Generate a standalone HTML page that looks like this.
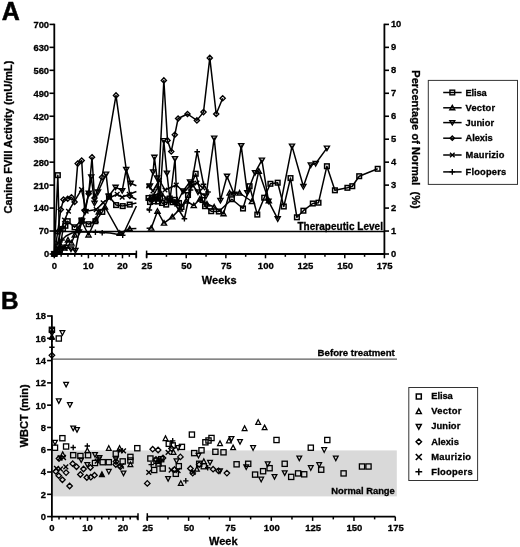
<!DOCTYPE html>
<html lang="en"><head><meta charset="utf-8"><title>Figure</title>
<style>html,body{margin:0;padding:0;background:#fff}svg{display:block;will-change:transform;filter:grayscale(1)}</style></head><body>
<svg width="520" height="547" viewBox="0 0 520 547" font-family='"Liberation Sans", Arial, Helvetica, sans-serif'>
<rect width="520" height="547" fill="#fff"/>
<text x="1.8" y="20.0" font-size="25" font-weight="bold" fill="#000" stroke="#000" stroke-width="0.5">A</text>
<path d="M54.3 23.7V254.75" stroke="#000" stroke-width="1.8" fill="none"/>
<path d="M49.5 254.00H54.3" stroke="#000" stroke-width="1.6"/>
<text x="49.1" y="257.4" font-size="9.4" font-weight="bold" fill="#000" stroke="#000" stroke-width="0.3" text-anchor="end">0</text>
<path d="M384.4 254.00h4.6" stroke="#000" stroke-width="1.6"/>
<text x="390.9" y="256.9" font-size="9.4" font-weight="bold" fill="#000" stroke="#000" stroke-width="0.3">0</text>
<path d="M49.5 231.04H54.3" stroke="#000" stroke-width="1.6"/>
<text x="49.1" y="234.44" font-size="9.4" font-weight="bold" fill="#000" stroke="#000" stroke-width="0.3" text-anchor="end">70</text>
<path d="M384.4 231.04h4.6" stroke="#000" stroke-width="1.6"/>
<text x="390.9" y="233.94" font-size="9.4" font-weight="bold" fill="#000" stroke="#000" stroke-width="0.3">1</text>
<path d="M49.5 208.08H54.3" stroke="#000" stroke-width="1.6"/>
<text x="49.1" y="211.48" font-size="9.4" font-weight="bold" fill="#000" stroke="#000" stroke-width="0.3" text-anchor="end">140</text>
<path d="M384.4 208.08h4.6" stroke="#000" stroke-width="1.6"/>
<text x="390.9" y="210.98" font-size="9.4" font-weight="bold" fill="#000" stroke="#000" stroke-width="0.3">2</text>
<path d="M49.5 185.12H54.3" stroke="#000" stroke-width="1.6"/>
<text x="49.1" y="188.52" font-size="9.4" font-weight="bold" fill="#000" stroke="#000" stroke-width="0.3" text-anchor="end">210</text>
<path d="M384.4 185.12h4.6" stroke="#000" stroke-width="1.6"/>
<text x="390.9" y="188.02" font-size="9.4" font-weight="bold" fill="#000" stroke="#000" stroke-width="0.3">3</text>
<path d="M49.5 162.16H54.3" stroke="#000" stroke-width="1.6"/>
<text x="49.1" y="165.56" font-size="9.4" font-weight="bold" fill="#000" stroke="#000" stroke-width="0.3" text-anchor="end">280</text>
<path d="M384.4 162.16h4.6" stroke="#000" stroke-width="1.6"/>
<text x="390.9" y="165.06" font-size="9.4" font-weight="bold" fill="#000" stroke="#000" stroke-width="0.3">4</text>
<path d="M49.5 139.20H54.3" stroke="#000" stroke-width="1.6"/>
<text x="49.1" y="142.6" font-size="9.4" font-weight="bold" fill="#000" stroke="#000" stroke-width="0.3" text-anchor="end">350</text>
<path d="M384.4 139.20h4.6" stroke="#000" stroke-width="1.6"/>
<text x="390.9" y="142.1" font-size="9.4" font-weight="bold" fill="#000" stroke="#000" stroke-width="0.3">5</text>
<path d="M49.5 116.24H54.3" stroke="#000" stroke-width="1.6"/>
<text x="49.1" y="119.64" font-size="9.4" font-weight="bold" fill="#000" stroke="#000" stroke-width="0.3" text-anchor="end">420</text>
<path d="M384.4 116.24h4.6" stroke="#000" stroke-width="1.6"/>
<text x="390.9" y="119.14" font-size="9.4" font-weight="bold" fill="#000" stroke="#000" stroke-width="0.3">6</text>
<path d="M49.5 93.28H54.3" stroke="#000" stroke-width="1.6"/>
<text x="49.1" y="96.68" font-size="9.4" font-weight="bold" fill="#000" stroke="#000" stroke-width="0.3" text-anchor="end">490</text>
<path d="M384.4 93.28h4.6" stroke="#000" stroke-width="1.6"/>
<text x="390.9" y="96.18" font-size="9.4" font-weight="bold" fill="#000" stroke="#000" stroke-width="0.3">7</text>
<path d="M49.5 70.32H54.3" stroke="#000" stroke-width="1.6"/>
<text x="49.1" y="73.72" font-size="9.4" font-weight="bold" fill="#000" stroke="#000" stroke-width="0.3" text-anchor="end">560</text>
<path d="M384.4 70.32h4.6" stroke="#000" stroke-width="1.6"/>
<text x="390.9" y="73.22" font-size="9.4" font-weight="bold" fill="#000" stroke="#000" stroke-width="0.3">8</text>
<path d="M49.5 47.36H54.3" stroke="#000" stroke-width="1.6"/>
<text x="49.1" y="50.76" font-size="9.4" font-weight="bold" fill="#000" stroke="#000" stroke-width="0.3" text-anchor="end">630</text>
<path d="M384.4 47.36h4.6" stroke="#000" stroke-width="1.6"/>
<text x="390.9" y="50.26" font-size="9.4" font-weight="bold" fill="#000" stroke="#000" stroke-width="0.3">9</text>
<path d="M49.5 24.40H54.3" stroke="#000" stroke-width="1.6"/>
<text x="49.1" y="27.8" font-size="9.4" font-weight="bold" fill="#000" stroke="#000" stroke-width="0.3" text-anchor="end">700</text>
<path d="M384.4 24.40h4.6" stroke="#000" stroke-width="1.6"/>
<text x="390.9" y="27.3" font-size="9.4" font-weight="bold" fill="#000" stroke="#000" stroke-width="0.3">10</text>
<path d="M384.4 23.7V254.75" stroke="#000" stroke-width="1.8" fill="none"/>
<path d="M53.55 254.0H136.4" stroke="#000" stroke-width="1.8"/>
<path d="M54.30 254.0v4.3" stroke="#000" stroke-width="1.5"/>
<path d="M61.12 254.0v2.8" stroke="#000" stroke-width="1.5"/>
<path d="M67.94 254.0v2.8" stroke="#000" stroke-width="1.5"/>
<path d="M74.76 254.0v2.8" stroke="#000" stroke-width="1.5"/>
<path d="M81.58 254.0v2.8" stroke="#000" stroke-width="1.5"/>
<path d="M88.40 254.0v4.3" stroke="#000" stroke-width="1.5"/>
<path d="M95.22 254.0v2.8" stroke="#000" stroke-width="1.5"/>
<path d="M102.04 254.0v2.8" stroke="#000" stroke-width="1.5"/>
<path d="M108.86 254.0v2.8" stroke="#000" stroke-width="1.5"/>
<path d="M115.68 254.0v2.8" stroke="#000" stroke-width="1.5"/>
<path d="M122.50 254.0v4.3" stroke="#000" stroke-width="1.5"/>
<path d="M129.32 254.0v2.8" stroke="#000" stroke-width="1.5"/>
<path d="M136.14 254.0v4.3" stroke="#000" stroke-width="1.5"/>
<path d="M136.4 250.6v7" stroke="#000" stroke-width="1.5"/>
<text x="54.3" y="269.2" font-size="9.5" font-weight="bold" fill="#000" stroke="#000" stroke-width="0.3" text-anchor="middle">0</text>
<text x="88.4" y="269.2" font-size="9.5" font-weight="bold" fill="#000" stroke="#000" stroke-width="0.3" text-anchor="middle">10</text>
<text x="122.5" y="269.2" font-size="9.5" font-weight="bold" fill="#000" stroke="#000" stroke-width="0.3" text-anchor="middle">20</text>
<path d="M146.6 254.0H384.4" stroke="#000" stroke-width="1.8"/>
<path d="M146.6 250.6v7" stroke="#000" stroke-width="1.5"/>
<path d="M146.60 254.0v4.3" stroke="#000" stroke-width="1.5"/>
<text x="146.9" y="269.2" font-size="9.5" font-weight="bold" fill="#000" stroke="#000" stroke-width="0.3" text-anchor="middle">25</text>
<path d="M166.42 254.0v2.8" stroke="#000" stroke-width="1.5"/>
<path d="M186.23 254.0v4.3" stroke="#000" stroke-width="1.5"/>
<text x="186.53" y="269.2" font-size="9.5" font-weight="bold" fill="#000" stroke="#000" stroke-width="0.3" text-anchor="middle">50</text>
<path d="M206.05 254.0v2.8" stroke="#000" stroke-width="1.5"/>
<path d="M225.87 254.0v4.3" stroke="#000" stroke-width="1.5"/>
<text x="226.17" y="269.2" font-size="9.5" font-weight="bold" fill="#000" stroke="#000" stroke-width="0.3" text-anchor="middle">75</text>
<path d="M245.68 254.0v2.8" stroke="#000" stroke-width="1.5"/>
<path d="M265.50 254.0v4.3" stroke="#000" stroke-width="1.5"/>
<text x="265.8" y="269.2" font-size="9.5" font-weight="bold" fill="#000" stroke="#000" stroke-width="0.3" text-anchor="middle">100</text>
<path d="M285.32 254.0v2.8" stroke="#000" stroke-width="1.5"/>
<path d="M305.13 254.0v4.3" stroke="#000" stroke-width="1.5"/>
<text x="305.43" y="269.2" font-size="9.5" font-weight="bold" fill="#000" stroke="#000" stroke-width="0.3" text-anchor="middle">125</text>
<path d="M324.95 254.0v2.8" stroke="#000" stroke-width="1.5"/>
<path d="M344.77 254.0v4.3" stroke="#000" stroke-width="1.5"/>
<text x="345.07" y="269.2" font-size="9.5" font-weight="bold" fill="#000" stroke="#000" stroke-width="0.3" text-anchor="middle">150</text>
<path d="M364.58 254.0v2.8" stroke="#000" stroke-width="1.5"/>
<path d="M384.40 254.0v4.3" stroke="#000" stroke-width="1.5"/>
<text x="384.7" y="269.2" font-size="9.5" font-weight="bold" fill="#000" stroke="#000" stroke-width="0.3" text-anchor="middle">175</text>
<text x="219.2" y="283.5" font-size="11" font-weight="bold" fill="#000" stroke="#000" stroke-width="0.3" text-anchor="middle">Weeks</text>
<text x="11.6" y="137" font-size="11" font-weight="bold" fill="#000" stroke="#000" stroke-width="0.3" text-anchor="middle" transform="rotate(-90 11.6 137)">Canine FVIII Activity (mU/mL)</text>
<text x="412.1" y="70.3" font-size="11" font-weight="bold" fill="#000" stroke="#000" stroke-width="0.3" textLength="138.5" lengthAdjust="spacing" transform="rotate(90 412.1 70.3)">Percentage of Normal&#160;&#160;(%)</text>
<path d="M54.3 231.4H384.4" stroke="#000" stroke-width="1.5"/>
<text x="297.4" y="230.2" font-size="10" font-weight="bold" fill="#000" stroke="#000" stroke-width="0.3" textLength="85.6" lengthAdjust="spacing">Therapeutic Level</text>
<g id="seriesA">
<path d="M54.30 253.90L57.85 175.15L59.80 250.00L63.00 229.00L65.40 225.80L67.70 221.20L74.60 227.30L81.50 220.40L88.50 224.20L95.40 221.20L102.30 211.90L109.00 196.50L116.10 205.10L122.70 206.10L129.70 204.60L136.40 203.10" fill="none" stroke="#000" stroke-width="1.5" stroke-linejoin="round"/>
<path d="M146.60 199.53L148.50 198.00L150.00 202.00L152.00 197.50L154.00 201.30L156.00 197.00L158.00 201.50L160.00 198.00L162.00 203.00L166.20 204.60L169.70 198.50L172.50 202.20L175.00 199.80L179.00 203.00L181.50 207.00L188.00 195.00L191.60 184.00L195.70 173.75L202.50 200.00L205.00 206.20L211.20 211.20L218.80 211.50L231.90 199.20L243.00 208.50L249.60 186.20L257.30 214.60L264.20 197.70L270.40 183.80L277.70 182.70L283.80 206.50L290.50 178.10L296.90 217.30L303.40 210.70L312.80 203.50L318.50 202.70L326.90 166.20L334.90 190.30L347.40 187.80L352.30 186.20L359.20 176.20L377.70 168.80" fill="none" stroke="#000" stroke-width="1.5" stroke-linejoin="round"/>
<path d="M54.30 253.90L57.70 250.00L61.00 246.00L64.50 248.00L68.00 240.00L71.40 243.00L74.80 235.00L78.20 229.00L81.60 221.00L88.50 235.00L95.40 220.00L98.80 212.00L105.00 207.00L119.70 233.30L129.70 228.80L136.40 228.40" fill="none" stroke="#000" stroke-width="1.5" stroke-linejoin="round"/>
<path d="M146.60 228.19L151.25 228.10L157.50 211.25L164.00 223.10L172.25 216.90L180.00 209.00L186.50 201.00L193.75 205.60L200.00 199.00L207.00 204.00L214.20 207.00L223.50 213.80L229.60 193.00L239.60 193.00L251.90 201.50L258.80 171.20L268.80 200.80" fill="none" stroke="#000" stroke-width="1.5" stroke-linejoin="round"/>
<path d="M54.30 253.90L57.70 252.00L61.00 251.00L66.20 247.30L71.00 249.00L75.40 250.40L79.00 232.00L82.00 221.00L85.00 212.00L88.75 193.25L91.25 177.00L94.50 203.25L98.00 192.00L106.10 174.10L108.60 196.30L115.60 187.20L122.20 190.70L126.20 169.40L130.70 183.20L136.40 185.70" fill="none" stroke="#000" stroke-width="1.5" stroke-linejoin="round"/>
<path d="M146.60 185.91L150.00 186.00L153.10 171.90L154.40 157.25L157.00 178.00L160.00 196.00L163.75 140.60L166.90 173.10L170.00 200.00L175.00 158.75L177.00 203.00L183.00 191.00L190.00 182.00L198.00 192.00L206.00 196.00L214.20 138.10L220.40 200.40L227.00 176.20L234.20 194.20L241.20 145.80L247.30 192.70L255.00 172.70L261.90 160.10L268.50 201.20L277.70 218.80L292.00 146.10L303.40 186.50L310.80 165.00L315.70 163.50L326.90 148.10" fill="none" stroke="#000" stroke-width="1.5" stroke-linejoin="round"/>
<path d="M54.30 253.90L57.70 232.00L60.80 209.60L63.50 199.60L67.70 198.80L71.50 197.30L74.60 201.90L77.70 163.60L81.70 160.60L84.60 210.40L88.70 193.80L92.00 157.20L94.50 198.00L102.00 177.20L116.00 95.40L129.90 196.00L136.40 199.50" fill="none" stroke="#000" stroke-width="1.5" stroke-linejoin="round"/>
<path d="M146.60 199.85L152.00 200.00L158.00 196.00L163.85 80.40L167.50 140.40L171.25 151.50L174.80 134.80L178.10 118.50L187.50 114.00L196.90 120.40L203.50 112.10L209.80 57.90L216.20 114.00L222.70 98.30" fill="none" stroke="#000" stroke-width="1.5" stroke-linejoin="round"/>
<path d="M54.30 253.90L57.70 243.00L61.00 230.00L64.50 220.00L68.50 211.20L81.50 189.60L86.20 211.20L96.20 209.60L103.10 202.70L109.00 198.00L117.20 194.30L122.20 197.30L129.20 194.30L136.40 191.50" fill="none" stroke="#000" stroke-width="1.5" stroke-linejoin="round"/>
<path d="M146.60 187.65L148.75 186.00L153.00 191.00L159.40 180.00L165.00 190.00L176.25 185.00L184.00 192.00L190.00 186.00L197.00 183.00L203.00 188.00" fill="none" stroke="#000" stroke-width="1.5" stroke-linejoin="round"/>
<path d="M54.30 253.90L58.00 247.00L62.00 240.00L66.00 236.00L72.00 233.00L80.00 232.00L88.50 232.00L97.00 232.00L103.00 232.50L110.00 233.00L122.70 235.30L136.40 206.00" fill="none" stroke="#000" stroke-width="1.5" stroke-linejoin="round"/>
<path d="M146.60 208.80L149.40 210.00L153.00 196.00L158.00 187.00L166.00 199.00L175.00 204.00L184.40 218.75L190.50 190.00L197.20 151.70L203.50 184.20L208.00 192.00" fill="none" stroke="#000" stroke-width="1.5" stroke-linejoin="round"/>
<rect x="55.55" y="172.85" width="4.60" height="4.60" fill="none" stroke="#000" stroke-width="1.5"/>
<rect x="57.50" y="247.70" width="4.60" height="4.60" fill="none" stroke="#000" stroke-width="1.5"/>
<rect x="60.70" y="226.70" width="4.60" height="4.60" fill="none" stroke="#000" stroke-width="1.5"/>
<rect x="63.10" y="223.50" width="4.60" height="4.60" fill="none" stroke="#000" stroke-width="1.5"/>
<rect x="65.40" y="218.90" width="4.60" height="4.60" fill="none" stroke="#000" stroke-width="1.5"/>
<rect x="72.30" y="225.00" width="4.60" height="4.60" fill="none" stroke="#000" stroke-width="1.5"/>
<rect x="79.20" y="218.10" width="4.60" height="4.60" fill="none" stroke="#000" stroke-width="1.5"/>
<rect x="86.20" y="221.90" width="4.60" height="4.60" fill="none" stroke="#000" stroke-width="1.5"/>
<rect x="93.10" y="218.90" width="4.60" height="4.60" fill="none" stroke="#000" stroke-width="1.5"/>
<rect x="100.00" y="209.60" width="4.60" height="4.60" fill="none" stroke="#000" stroke-width="1.5"/>
<rect x="106.70" y="194.20" width="4.60" height="4.60" fill="none" stroke="#000" stroke-width="1.5"/>
<rect x="113.80" y="202.80" width="4.60" height="4.60" fill="none" stroke="#000" stroke-width="1.5"/>
<rect x="120.40" y="203.80" width="4.60" height="4.60" fill="none" stroke="#000" stroke-width="1.5"/>
<rect x="127.40" y="202.30" width="4.60" height="4.60" fill="none" stroke="#000" stroke-width="1.5"/>
<rect x="146.20" y="195.70" width="4.60" height="4.60" fill="none" stroke="#000" stroke-width="1.5"/>
<rect x="147.70" y="199.70" width="4.60" height="4.60" fill="none" stroke="#000" stroke-width="1.5"/>
<rect x="149.70" y="195.20" width="4.60" height="4.60" fill="none" stroke="#000" stroke-width="1.5"/>
<rect x="151.70" y="199.00" width="4.60" height="4.60" fill="none" stroke="#000" stroke-width="1.5"/>
<rect x="153.70" y="194.70" width="4.60" height="4.60" fill="none" stroke="#000" stroke-width="1.5"/>
<rect x="155.70" y="199.20" width="4.60" height="4.60" fill="none" stroke="#000" stroke-width="1.5"/>
<rect x="157.70" y="195.70" width="4.60" height="4.60" fill="none" stroke="#000" stroke-width="1.5"/>
<rect x="159.70" y="200.70" width="4.60" height="4.60" fill="none" stroke="#000" stroke-width="1.5"/>
<rect x="163.90" y="202.30" width="4.60" height="4.60" fill="none" stroke="#000" stroke-width="1.5"/>
<rect x="167.40" y="196.20" width="4.60" height="4.60" fill="none" stroke="#000" stroke-width="1.5"/>
<rect x="170.20" y="199.90" width="4.60" height="4.60" fill="none" stroke="#000" stroke-width="1.5"/>
<rect x="172.70" y="197.50" width="4.60" height="4.60" fill="none" stroke="#000" stroke-width="1.5"/>
<rect x="176.70" y="200.70" width="4.60" height="4.60" fill="none" stroke="#000" stroke-width="1.5"/>
<rect x="179.20" y="204.70" width="4.60" height="4.60" fill="none" stroke="#000" stroke-width="1.5"/>
<rect x="185.70" y="192.70" width="4.60" height="4.60" fill="none" stroke="#000" stroke-width="1.5"/>
<rect x="189.30" y="181.70" width="4.60" height="4.60" fill="none" stroke="#000" stroke-width="1.5"/>
<rect x="193.40" y="171.45" width="4.60" height="4.60" fill="none" stroke="#000" stroke-width="1.5"/>
<rect x="200.20" y="197.70" width="4.60" height="4.60" fill="none" stroke="#000" stroke-width="1.5"/>
<rect x="202.70" y="203.90" width="4.60" height="4.60" fill="none" stroke="#000" stroke-width="1.5"/>
<rect x="208.90" y="208.90" width="4.60" height="4.60" fill="none" stroke="#000" stroke-width="1.5"/>
<rect x="216.50" y="209.20" width="4.60" height="4.60" fill="none" stroke="#000" stroke-width="1.5"/>
<rect x="229.60" y="196.90" width="4.60" height="4.60" fill="none" stroke="#000" stroke-width="1.5"/>
<rect x="240.70" y="206.20" width="4.60" height="4.60" fill="none" stroke="#000" stroke-width="1.5"/>
<rect x="247.30" y="183.90" width="4.60" height="4.60" fill="none" stroke="#000" stroke-width="1.5"/>
<rect x="255.00" y="212.30" width="4.60" height="4.60" fill="none" stroke="#000" stroke-width="1.5"/>
<rect x="261.90" y="195.40" width="4.60" height="4.60" fill="none" stroke="#000" stroke-width="1.5"/>
<rect x="268.10" y="181.50" width="4.60" height="4.60" fill="none" stroke="#000" stroke-width="1.5"/>
<rect x="275.40" y="180.40" width="4.60" height="4.60" fill="none" stroke="#000" stroke-width="1.5"/>
<rect x="281.50" y="204.20" width="4.60" height="4.60" fill="none" stroke="#000" stroke-width="1.5"/>
<rect x="288.20" y="175.80" width="4.60" height="4.60" fill="none" stroke="#000" stroke-width="1.5"/>
<rect x="294.60" y="215.00" width="4.60" height="4.60" fill="none" stroke="#000" stroke-width="1.5"/>
<rect x="301.10" y="208.40" width="4.60" height="4.60" fill="none" stroke="#000" stroke-width="1.5"/>
<rect x="310.50" y="201.20" width="4.60" height="4.60" fill="none" stroke="#000" stroke-width="1.5"/>
<rect x="316.20" y="200.40" width="4.60" height="4.60" fill="none" stroke="#000" stroke-width="1.5"/>
<rect x="324.60" y="163.90" width="4.60" height="4.60" fill="none" stroke="#000" stroke-width="1.5"/>
<rect x="332.60" y="188.00" width="4.60" height="4.60" fill="none" stroke="#000" stroke-width="1.5"/>
<rect x="345.10" y="185.50" width="4.60" height="4.60" fill="none" stroke="#000" stroke-width="1.5"/>
<rect x="350.00" y="183.90" width="4.60" height="4.60" fill="none" stroke="#000" stroke-width="1.5"/>
<rect x="356.90" y="173.90" width="4.60" height="4.60" fill="none" stroke="#000" stroke-width="1.5"/>
<rect x="375.40" y="166.50" width="4.60" height="4.60" fill="none" stroke="#000" stroke-width="1.5"/>
<rect x="52.00" y="251.60" width="4.60" height="4.60" fill="none" stroke="#000" stroke-width="1.5"/>
<path d="M57.70 247.50L60.25 252.00L55.15 252.00Z" fill="none" stroke="#000" stroke-width="1.4" stroke-linejoin="miter"/>
<path d="M61.00 243.50L63.55 248.00L58.45 248.00Z" fill="none" stroke="#000" stroke-width="1.4" stroke-linejoin="miter"/>
<path d="M64.50 245.50L67.05 250.00L61.95 250.00Z" fill="none" stroke="#000" stroke-width="1.4" stroke-linejoin="miter"/>
<path d="M68.00 237.50L70.55 242.00L65.45 242.00Z" fill="none" stroke="#000" stroke-width="1.4" stroke-linejoin="miter"/>
<path d="M71.40 240.50L73.95 245.00L68.85 245.00Z" fill="none" stroke="#000" stroke-width="1.4" stroke-linejoin="miter"/>
<path d="M74.80 232.50L77.35 237.00L72.25 237.00Z" fill="none" stroke="#000" stroke-width="1.4" stroke-linejoin="miter"/>
<path d="M78.20 226.50L80.75 231.00L75.65 231.00Z" fill="none" stroke="#000" stroke-width="1.4" stroke-linejoin="miter"/>
<path d="M81.60 218.50L84.15 223.00L79.05 223.00Z" fill="none" stroke="#000" stroke-width="1.4" stroke-linejoin="miter"/>
<path d="M88.50 232.50L91.05 237.00L85.95 237.00Z" fill="none" stroke="#000" stroke-width="1.4" stroke-linejoin="miter"/>
<path d="M95.40 217.50L97.95 222.00L92.85 222.00Z" fill="none" stroke="#000" stroke-width="1.4" stroke-linejoin="miter"/>
<path d="M98.80 209.50L101.35 214.00L96.25 214.00Z" fill="none" stroke="#000" stroke-width="1.4" stroke-linejoin="miter"/>
<path d="M105.00 204.50L107.55 209.00L102.45 209.00Z" fill="none" stroke="#000" stroke-width="1.4" stroke-linejoin="miter"/>
<path d="M119.70 230.80L122.25 235.30L117.15 235.30Z" fill="none" stroke="#000" stroke-width="1.4" stroke-linejoin="miter"/>
<path d="M129.70 226.30L132.25 230.80L127.15 230.80Z" fill="none" stroke="#000" stroke-width="1.4" stroke-linejoin="miter"/>
<path d="M151.25 225.60L153.80 230.10L148.70 230.10Z" fill="none" stroke="#000" stroke-width="1.4" stroke-linejoin="miter"/>
<path d="M157.50 208.75L160.05 213.25L154.95 213.25Z" fill="none" stroke="#000" stroke-width="1.4" stroke-linejoin="miter"/>
<path d="M164.00 220.60L166.55 225.10L161.45 225.10Z" fill="none" stroke="#000" stroke-width="1.4" stroke-linejoin="miter"/>
<path d="M172.25 214.40L174.80 218.90L169.70 218.90Z" fill="none" stroke="#000" stroke-width="1.4" stroke-linejoin="miter"/>
<path d="M180.00 206.50L182.55 211.00L177.45 211.00Z" fill="none" stroke="#000" stroke-width="1.4" stroke-linejoin="miter"/>
<path d="M186.50 198.50L189.05 203.00L183.95 203.00Z" fill="none" stroke="#000" stroke-width="1.4" stroke-linejoin="miter"/>
<path d="M193.75 203.10L196.30 207.60L191.20 207.60Z" fill="none" stroke="#000" stroke-width="1.4" stroke-linejoin="miter"/>
<path d="M200.00 196.50L202.55 201.00L197.45 201.00Z" fill="none" stroke="#000" stroke-width="1.4" stroke-linejoin="miter"/>
<path d="M207.00 201.50L209.55 206.00L204.45 206.00Z" fill="none" stroke="#000" stroke-width="1.4" stroke-linejoin="miter"/>
<path d="M214.20 204.50L216.75 209.00L211.65 209.00Z" fill="none" stroke="#000" stroke-width="1.4" stroke-linejoin="miter"/>
<path d="M223.50 211.30L226.05 215.80L220.95 215.80Z" fill="none" stroke="#000" stroke-width="1.4" stroke-linejoin="miter"/>
<path d="M229.60 190.50L232.15 195.00L227.05 195.00Z" fill="none" stroke="#000" stroke-width="1.4" stroke-linejoin="miter"/>
<path d="M239.60 190.50L242.15 195.00L237.05 195.00Z" fill="none" stroke="#000" stroke-width="1.4" stroke-linejoin="miter"/>
<path d="M251.90 199.00L254.45 203.50L249.35 203.50Z" fill="none" stroke="#000" stroke-width="1.4" stroke-linejoin="miter"/>
<path d="M258.80 168.70L261.35 173.20L256.25 173.20Z" fill="none" stroke="#000" stroke-width="1.4" stroke-linejoin="miter"/>
<path d="M268.80 198.30L271.35 202.80L266.25 202.80Z" fill="none" stroke="#000" stroke-width="1.4" stroke-linejoin="miter"/>
<path d="M54.30 251.40L56.85 255.90L51.75 255.90Z" fill="none" stroke="#000" stroke-width="1.4" stroke-linejoin="miter"/>
<path d="M57.70 254.50L60.25 250.00L55.15 250.00Z" fill="none" stroke="#000" stroke-width="1.4" stroke-linejoin="miter"/>
<path d="M61.00 253.50L63.55 249.00L58.45 249.00Z" fill="none" stroke="#000" stroke-width="1.4" stroke-linejoin="miter"/>
<path d="M66.20 249.80L68.75 245.30L63.65 245.30Z" fill="none" stroke="#000" stroke-width="1.4" stroke-linejoin="miter"/>
<path d="M71.00 251.50L73.55 247.00L68.45 247.00Z" fill="none" stroke="#000" stroke-width="1.4" stroke-linejoin="miter"/>
<path d="M75.40 252.90L77.95 248.40L72.85 248.40Z" fill="none" stroke="#000" stroke-width="1.4" stroke-linejoin="miter"/>
<path d="M79.00 234.50L81.55 230.00L76.45 230.00Z" fill="none" stroke="#000" stroke-width="1.4" stroke-linejoin="miter"/>
<path d="M82.00 223.50L84.55 219.00L79.45 219.00Z" fill="none" stroke="#000" stroke-width="1.4" stroke-linejoin="miter"/>
<path d="M85.00 214.50L87.55 210.00L82.45 210.00Z" fill="none" stroke="#000" stroke-width="1.4" stroke-linejoin="miter"/>
<path d="M88.75 195.75L91.30 191.25L86.20 191.25Z" fill="none" stroke="#000" stroke-width="1.4" stroke-linejoin="miter"/>
<path d="M91.25 179.50L93.80 175.00L88.70 175.00Z" fill="none" stroke="#000" stroke-width="1.4" stroke-linejoin="miter"/>
<path d="M94.50 205.75L97.05 201.25L91.95 201.25Z" fill="none" stroke="#000" stroke-width="1.4" stroke-linejoin="miter"/>
<path d="M98.00 194.50L100.55 190.00L95.45 190.00Z" fill="none" stroke="#000" stroke-width="1.4" stroke-linejoin="miter"/>
<path d="M106.10 176.60L108.65 172.10L103.55 172.10Z" fill="none" stroke="#000" stroke-width="1.4" stroke-linejoin="miter"/>
<path d="M108.60 198.80L111.15 194.30L106.05 194.30Z" fill="none" stroke="#000" stroke-width="1.4" stroke-linejoin="miter"/>
<path d="M115.60 189.70L118.15 185.20L113.05 185.20Z" fill="none" stroke="#000" stroke-width="1.4" stroke-linejoin="miter"/>
<path d="M122.20 193.20L124.75 188.70L119.65 188.70Z" fill="none" stroke="#000" stroke-width="1.4" stroke-linejoin="miter"/>
<path d="M126.20 171.90L128.75 167.40L123.65 167.40Z" fill="none" stroke="#000" stroke-width="1.4" stroke-linejoin="miter"/>
<path d="M130.70 185.70L133.25 181.20L128.15 181.20Z" fill="none" stroke="#000" stroke-width="1.4" stroke-linejoin="miter"/>
<path d="M150.00 188.50L152.55 184.00L147.45 184.00Z" fill="none" stroke="#000" stroke-width="1.4" stroke-linejoin="miter"/>
<path d="M153.10 174.40L155.65 169.90L150.55 169.90Z" fill="none" stroke="#000" stroke-width="1.4" stroke-linejoin="miter"/>
<path d="M154.40 159.75L156.95 155.25L151.85 155.25Z" fill="none" stroke="#000" stroke-width="1.4" stroke-linejoin="miter"/>
<path d="M157.00 180.50L159.55 176.00L154.45 176.00Z" fill="none" stroke="#000" stroke-width="1.4" stroke-linejoin="miter"/>
<path d="M160.00 198.50L162.55 194.00L157.45 194.00Z" fill="none" stroke="#000" stroke-width="1.4" stroke-linejoin="miter"/>
<path d="M163.75 143.10L166.30 138.60L161.20 138.60Z" fill="none" stroke="#000" stroke-width="1.4" stroke-linejoin="miter"/>
<path d="M166.90 175.60L169.45 171.10L164.35 171.10Z" fill="none" stroke="#000" stroke-width="1.4" stroke-linejoin="miter"/>
<path d="M170.00 202.50L172.55 198.00L167.45 198.00Z" fill="none" stroke="#000" stroke-width="1.4" stroke-linejoin="miter"/>
<path d="M175.00 161.25L177.55 156.75L172.45 156.75Z" fill="none" stroke="#000" stroke-width="1.4" stroke-linejoin="miter"/>
<path d="M177.00 205.50L179.55 201.00L174.45 201.00Z" fill="none" stroke="#000" stroke-width="1.4" stroke-linejoin="miter"/>
<path d="M183.00 193.50L185.55 189.00L180.45 189.00Z" fill="none" stroke="#000" stroke-width="1.4" stroke-linejoin="miter"/>
<path d="M190.00 184.50L192.55 180.00L187.45 180.00Z" fill="none" stroke="#000" stroke-width="1.4" stroke-linejoin="miter"/>
<path d="M198.00 194.50L200.55 190.00L195.45 190.00Z" fill="none" stroke="#000" stroke-width="1.4" stroke-linejoin="miter"/>
<path d="M206.00 198.50L208.55 194.00L203.45 194.00Z" fill="none" stroke="#000" stroke-width="1.4" stroke-linejoin="miter"/>
<path d="M214.20 140.60L216.75 136.10L211.65 136.10Z" fill="none" stroke="#000" stroke-width="1.4" stroke-linejoin="miter"/>
<path d="M220.40 202.90L222.95 198.40L217.85 198.40Z" fill="none" stroke="#000" stroke-width="1.4" stroke-linejoin="miter"/>
<path d="M227.00 178.70L229.55 174.20L224.45 174.20Z" fill="none" stroke="#000" stroke-width="1.4" stroke-linejoin="miter"/>
<path d="M234.20 196.70L236.75 192.20L231.65 192.20Z" fill="none" stroke="#000" stroke-width="1.4" stroke-linejoin="miter"/>
<path d="M241.20 148.30L243.75 143.80L238.65 143.80Z" fill="none" stroke="#000" stroke-width="1.4" stroke-linejoin="miter"/>
<path d="M247.30 195.20L249.85 190.70L244.75 190.70Z" fill="none" stroke="#000" stroke-width="1.4" stroke-linejoin="miter"/>
<path d="M255.00 175.20L257.55 170.70L252.45 170.70Z" fill="none" stroke="#000" stroke-width="1.4" stroke-linejoin="miter"/>
<path d="M261.90 162.60L264.45 158.10L259.35 158.10Z" fill="none" stroke="#000" stroke-width="1.4" stroke-linejoin="miter"/>
<path d="M268.50 203.70L271.05 199.20L265.95 199.20Z" fill="none" stroke="#000" stroke-width="1.4" stroke-linejoin="miter"/>
<path d="M277.70 221.30L280.25 216.80L275.15 216.80Z" fill="none" stroke="#000" stroke-width="1.4" stroke-linejoin="miter"/>
<path d="M292.00 148.60L294.55 144.10L289.45 144.10Z" fill="none" stroke="#000" stroke-width="1.4" stroke-linejoin="miter"/>
<path d="M303.40 189.00L305.95 184.50L300.85 184.50Z" fill="none" stroke="#000" stroke-width="1.4" stroke-linejoin="miter"/>
<path d="M310.80 167.50L313.35 163.00L308.25 163.00Z" fill="none" stroke="#000" stroke-width="1.4" stroke-linejoin="miter"/>
<path d="M315.70 166.00L318.25 161.50L313.15 161.50Z" fill="none" stroke="#000" stroke-width="1.4" stroke-linejoin="miter"/>
<path d="M326.90 150.60L329.45 146.10L324.35 146.10Z" fill="none" stroke="#000" stroke-width="1.4" stroke-linejoin="miter"/>
<path d="M54.30 256.40L56.85 251.90L51.75 251.90Z" fill="none" stroke="#000" stroke-width="1.4" stroke-linejoin="miter"/>
<path d="M57.70 229.40L60.30 232.00L57.70 234.60L55.10 232.00Z" fill="none" stroke="#000" stroke-width="1.35"/>
<path d="M60.80 207.00L63.40 209.60L60.80 212.20L58.20 209.60Z" fill="none" stroke="#000" stroke-width="1.35"/>
<path d="M63.50 197.00L66.10 199.60L63.50 202.20L60.90 199.60Z" fill="none" stroke="#000" stroke-width="1.35"/>
<path d="M67.70 196.20L70.30 198.80L67.70 201.40L65.10 198.80Z" fill="none" stroke="#000" stroke-width="1.35"/>
<path d="M71.50 194.70L74.10 197.30L71.50 199.90L68.90 197.30Z" fill="none" stroke="#000" stroke-width="1.35"/>
<path d="M74.60 199.30L77.20 201.90L74.60 204.50L72.00 201.90Z" fill="none" stroke="#000" stroke-width="1.35"/>
<path d="M77.70 161.00L80.30 163.60L77.70 166.20L75.10 163.60Z" fill="none" stroke="#000" stroke-width="1.35"/>
<path d="M81.70 158.00L84.30 160.60L81.70 163.20L79.10 160.60Z" fill="none" stroke="#000" stroke-width="1.35"/>
<path d="M84.60 207.80L87.20 210.40L84.60 213.00L82.00 210.40Z" fill="none" stroke="#000" stroke-width="1.35"/>
<path d="M88.70 191.20L91.30 193.80L88.70 196.40L86.10 193.80Z" fill="none" stroke="#000" stroke-width="1.35"/>
<path d="M92.00 154.60L94.60 157.20L92.00 159.80L89.40 157.20Z" fill="none" stroke="#000" stroke-width="1.35"/>
<path d="M94.50 195.40L97.10 198.00L94.50 200.60L91.90 198.00Z" fill="none" stroke="#000" stroke-width="1.35"/>
<path d="M102.00 174.60L104.60 177.20L102.00 179.80L99.40 177.20Z" fill="none" stroke="#000" stroke-width="1.35"/>
<path d="M116.00 92.80L118.60 95.40L116.00 98.00L113.40 95.40Z" fill="none" stroke="#000" stroke-width="1.35"/>
<path d="M129.90 193.40L132.50 196.00L129.90 198.60L127.30 196.00Z" fill="none" stroke="#000" stroke-width="1.35"/>
<path d="M152.00 197.40L154.60 200.00L152.00 202.60L149.40 200.00Z" fill="none" stroke="#000" stroke-width="1.35"/>
<path d="M158.00 193.40L160.60 196.00L158.00 198.60L155.40 196.00Z" fill="none" stroke="#000" stroke-width="1.35"/>
<path d="M163.85 77.80L166.45 80.40L163.85 83.00L161.25 80.40Z" fill="none" stroke="#000" stroke-width="1.35"/>
<path d="M167.50 137.80L170.10 140.40L167.50 143.00L164.90 140.40Z" fill="none" stroke="#000" stroke-width="1.35"/>
<path d="M171.25 148.90L173.85 151.50L171.25 154.10L168.65 151.50Z" fill="none" stroke="#000" stroke-width="1.35"/>
<path d="M174.80 132.20L177.40 134.80L174.80 137.40L172.20 134.80Z" fill="none" stroke="#000" stroke-width="1.35"/>
<path d="M178.10 115.90L180.70 118.50L178.10 121.10L175.50 118.50Z" fill="none" stroke="#000" stroke-width="1.35"/>
<path d="M187.50 111.40L190.10 114.00L187.50 116.60L184.90 114.00Z" fill="none" stroke="#000" stroke-width="1.35"/>
<path d="M196.90 117.80L199.50 120.40L196.90 123.00L194.30 120.40Z" fill="none" stroke="#000" stroke-width="1.35"/>
<path d="M203.50 109.50L206.10 112.10L203.50 114.70L200.90 112.10Z" fill="none" stroke="#000" stroke-width="1.35"/>
<path d="M209.80 55.30L212.40 57.90L209.80 60.50L207.20 57.90Z" fill="none" stroke="#000" stroke-width="1.35"/>
<path d="M216.20 111.40L218.80 114.00L216.20 116.60L213.60 114.00Z" fill="none" stroke="#000" stroke-width="1.35"/>
<path d="M222.70 95.70L225.30 98.30L222.70 100.90L220.10 98.30Z" fill="none" stroke="#000" stroke-width="1.35"/>
<path d="M54.30 251.30L56.90 253.90L54.30 256.50L51.70 253.90Z" fill="none" stroke="#000" stroke-width="1.35"/>
<path d="M55.40 240.70L60.00 245.30M55.40 245.30L60.00 240.70" fill="none" stroke="#000" stroke-width="1.4"/>
<path d="M58.70 227.70L63.30 232.30M58.70 232.30L63.30 227.70" fill="none" stroke="#000" stroke-width="1.4"/>
<path d="M62.20 217.70L66.80 222.30M62.20 222.30L66.80 217.70" fill="none" stroke="#000" stroke-width="1.4"/>
<path d="M66.20 208.90L70.80 213.50M66.20 213.50L70.80 208.90" fill="none" stroke="#000" stroke-width="1.4"/>
<path d="M79.20 187.30L83.80 191.90M79.20 191.90L83.80 187.30" fill="none" stroke="#000" stroke-width="1.4"/>
<path d="M83.90 208.90L88.50 213.50M83.90 213.50L88.50 208.90" fill="none" stroke="#000" stroke-width="1.4"/>
<path d="M93.90 207.30L98.50 211.90M93.90 211.90L98.50 207.30" fill="none" stroke="#000" stroke-width="1.4"/>
<path d="M100.80 200.40L105.40 205.00M100.80 205.00L105.40 200.40" fill="none" stroke="#000" stroke-width="1.4"/>
<path d="M106.70 195.70L111.30 200.30M106.70 200.30L111.30 195.70" fill="none" stroke="#000" stroke-width="1.4"/>
<path d="M114.90 192.00L119.50 196.60M114.90 196.60L119.50 192.00" fill="none" stroke="#000" stroke-width="1.4"/>
<path d="M119.90 195.00L124.50 199.60M119.90 199.60L124.50 195.00" fill="none" stroke="#000" stroke-width="1.4"/>
<path d="M126.90 192.00L131.50 196.60M126.90 196.60L131.50 192.00" fill="none" stroke="#000" stroke-width="1.4"/>
<path d="M146.45 183.70L151.05 188.30M146.45 188.30L151.05 183.70" fill="none" stroke="#000" stroke-width="1.4"/>
<path d="M150.70 188.70L155.30 193.30M150.70 193.30L155.30 188.70" fill="none" stroke="#000" stroke-width="1.4"/>
<path d="M157.10 177.70L161.70 182.30M157.10 182.30L161.70 177.70" fill="none" stroke="#000" stroke-width="1.4"/>
<path d="M162.70 187.70L167.30 192.30M162.70 192.30L167.30 187.70" fill="none" stroke="#000" stroke-width="1.4"/>
<path d="M173.95 182.70L178.55 187.30M173.95 187.30L178.55 182.70" fill="none" stroke="#000" stroke-width="1.4"/>
<path d="M181.70 189.70L186.30 194.30M181.70 194.30L186.30 189.70" fill="none" stroke="#000" stroke-width="1.4"/>
<path d="M187.70 183.70L192.30 188.30M187.70 188.30L192.30 183.70" fill="none" stroke="#000" stroke-width="1.4"/>
<path d="M194.70 180.70L199.30 185.30M194.70 185.30L199.30 180.70" fill="none" stroke="#000" stroke-width="1.4"/>
<path d="M200.70 185.70L205.30 190.30M200.70 190.30L205.30 185.70" fill="none" stroke="#000" stroke-width="1.4"/>
<path d="M52.00 251.60L56.60 256.20M52.00 256.20L56.60 251.60" fill="none" stroke="#000" stroke-width="1.4"/>
<path d="M59.20 240.00L64.80 240.00M62.00 237.20L62.00 242.80" fill="none" stroke="#000" stroke-width="1.4"/>
<path d="M92.60 232.30L98.20 232.30M95.40 229.50L95.40 235.10" fill="none" stroke="#000" stroke-width="1.4"/>
<path d="M99.40 232.80L105.00 232.80M102.20 230.00L102.20 235.60" fill="none" stroke="#000" stroke-width="1.4"/>
<path d="M119.90 235.30L125.50 235.30M122.70 232.50L122.70 238.10" fill="none" stroke="#000" stroke-width="1.4"/>
<path d="M146.60 210.00L152.20 210.00M149.40 207.20L149.40 212.80" fill="none" stroke="#000" stroke-width="1.4"/>
<path d="M150.20 196.00L155.80 196.00M153.00 193.20L153.00 198.80" fill="none" stroke="#000" stroke-width="1.4"/>
<path d="M155.20 187.00L160.80 187.00M158.00 184.20L158.00 189.80" fill="none" stroke="#000" stroke-width="1.4"/>
<path d="M163.20 199.00L168.80 199.00M166.00 196.20L166.00 201.80" fill="none" stroke="#000" stroke-width="1.4"/>
<path d="M172.20 204.00L177.80 204.00M175.00 201.20L175.00 206.80" fill="none" stroke="#000" stroke-width="1.4"/>
<path d="M181.60 218.75L187.20 218.75M184.40 215.95L184.40 221.55" fill="none" stroke="#000" stroke-width="1.4"/>
<path d="M187.70 190.00L193.30 190.00M190.50 187.20L190.50 192.80" fill="none" stroke="#000" stroke-width="1.4"/>
<path d="M194.40 151.70L200.00 151.70M197.20 148.90L197.20 154.50" fill="none" stroke="#000" stroke-width="1.4"/>
<path d="M200.70 184.20L206.30 184.20M203.50 181.40L203.50 187.00" fill="none" stroke="#000" stroke-width="1.4"/>
<path d="M205.20 192.00L210.80 192.00M208.00 189.20L208.00 194.80" fill="none" stroke="#000" stroke-width="1.4"/>
<path d="M51.50 253.90L57.10 253.90M54.30 251.10L54.30 256.70" fill="none" stroke="#000" stroke-width="1.4"/>
</g>
<rect x="428.3" y="80.4" width="89.2" height="104" fill="#fff" stroke="#333" stroke-width="1"/>
<path d="M443.2 92.5H461.6" stroke="#000" stroke-width="1.5"/>
<rect x="449.95" y="90.15" width="4.70" height="4.70" fill="none" stroke="#000" stroke-width="1.4"/>
<text x="465.5" y="95.7" font-size="9.3" font-weight="bold" fill="#000" stroke="#000" stroke-width="0.3" textLength="21.2" lengthAdjust="spacing">Elisa</text>
<path d="M443.2 107.8H461.6" stroke="#000" stroke-width="1.5"/>
<path d="M452.30 105.40L454.80 109.70L449.80 109.70Z" fill="none" stroke="#000" stroke-width="1.35" stroke-linejoin="miter"/>
<text x="465.5" y="110.8" font-size="9.3" font-weight="bold" fill="#000" stroke="#000" stroke-width="0.3" textLength="29.6" lengthAdjust="spacing">Vector</text>
<path d="M443.2 122.6H461.6" stroke="#000" stroke-width="1.5"/>
<path d="M452.30 125.00L454.80 120.70L449.80 120.70Z" fill="none" stroke="#000" stroke-width="1.35" stroke-linejoin="miter"/>
<text x="465.5" y="125.9" font-size="9.3" font-weight="bold" fill="#000" stroke="#000" stroke-width="0.3" textLength="28.5" lengthAdjust="spacing">Junior</text>
<path d="M443.2 138.2H461.6" stroke="#000" stroke-width="1.5"/>
<path d="M452.30 136.00L454.50 138.20L452.30 140.40L450.10 138.20Z" fill="none" stroke="#000" stroke-width="1.3"/>
<text x="465.5" y="141.2" font-size="9.3" font-weight="bold" fill="#000" stroke="#000" stroke-width="0.3" textLength="27.2" lengthAdjust="spacing">Alexis</text>
<path d="M443.2 155H461.6" stroke="#000" stroke-width="1.5"/>
<path d="M450.00 152.70L454.60 157.30M450.00 157.30L454.60 152.70" fill="none" stroke="#000" stroke-width="1.3"/>
<text x="465.5" y="158.2" font-size="9.3" font-weight="bold" fill="#000" stroke="#000" stroke-width="0.3" textLength="39.0" lengthAdjust="spacing">Maurizio</text>
<path d="M443.2 171.9H461.6" stroke="#000" stroke-width="1.5"/>
<path d="M449.50 171.90L455.10 171.90M452.30 169.10L452.30 174.70" fill="none" stroke="#000" stroke-width="1.4"/>
<text x="465.5" y="175.2" font-size="9.3" font-weight="bold" fill="#000" stroke="#000" stroke-width="0.3" textLength="40.7" lengthAdjust="spacing">Floopers</text>
<text x="1.0" y="308.9" font-size="24.3" font-weight="bold" fill="#000" stroke="#000" stroke-width="0.5">B</text>
<rect x="52.6" y="450.4" width="344.2" height="46" fill="#d9d9d9"/>
<path d="M51.9 359H397" stroke="#5c5c5c" stroke-width="1.25"/>
<text x="317.6" y="356.3" font-size="9.65" font-weight="bold" fill="#000" stroke="#000" stroke-width="0.3" textLength="77.2" lengthAdjust="spacing">Before treatment</text>
<text x="331.3" y="494.3" font-size="9.4" font-weight="bold" fill="#000" stroke="#000" stroke-width="0.3" textLength="63.5" lengthAdjust="spacing">Normal Range</text>
<path d="M51.9 315.3V517.35" stroke="#000" stroke-width="1.8"/>
<path d="M47.1 516.60H51.9" stroke="#000" stroke-width="1.6"/>
<text x="46.0" y="520.0" font-size="9.4" font-weight="bold" fill="#000" stroke="#000" stroke-width="0.3" text-anchor="end">0</text>
<path d="M47.1 494.31H51.9" stroke="#000" stroke-width="1.6"/>
<text x="46.0" y="497.71" font-size="9.4" font-weight="bold" fill="#000" stroke="#000" stroke-width="0.3" text-anchor="end">2</text>
<path d="M47.1 472.02H51.9" stroke="#000" stroke-width="1.6"/>
<text x="46.0" y="475.42" font-size="9.4" font-weight="bold" fill="#000" stroke="#000" stroke-width="0.3" text-anchor="end">4</text>
<path d="M47.1 449.73H51.9" stroke="#000" stroke-width="1.6"/>
<text x="46.0" y="453.13" font-size="9.4" font-weight="bold" fill="#000" stroke="#000" stroke-width="0.3" text-anchor="end">6</text>
<path d="M47.1 427.44H51.9" stroke="#000" stroke-width="1.6"/>
<text x="46.0" y="430.84" font-size="9.4" font-weight="bold" fill="#000" stroke="#000" stroke-width="0.3" text-anchor="end">8</text>
<path d="M47.1 405.16H51.9" stroke="#000" stroke-width="1.6"/>
<text x="46.0" y="408.56" font-size="9.4" font-weight="bold" fill="#000" stroke="#000" stroke-width="0.3" text-anchor="end">10</text>
<path d="M47.1 382.87H51.9" stroke="#000" stroke-width="1.6"/>
<text x="46.0" y="386.27" font-size="9.4" font-weight="bold" fill="#000" stroke="#000" stroke-width="0.3" text-anchor="end">12</text>
<path d="M47.1 360.58H51.9" stroke="#000" stroke-width="1.6"/>
<text x="46.0" y="363.98" font-size="9.4" font-weight="bold" fill="#000" stroke="#000" stroke-width="0.3" text-anchor="end">14</text>
<path d="M47.1 338.29H51.9" stroke="#000" stroke-width="1.6"/>
<text x="46.0" y="341.69" font-size="9.4" font-weight="bold" fill="#000" stroke="#000" stroke-width="0.3" text-anchor="end">16</text>
<path d="M47.1 316.00H51.9" stroke="#000" stroke-width="1.6"/>
<text x="46.0" y="319.4" font-size="9.4" font-weight="bold" fill="#000" stroke="#000" stroke-width="0.3" text-anchor="end">18</text>
<path d="M51.15 516.6H138.0" stroke="#000" stroke-width="1.8"/>
<path d="M51.90 516.6v4.3" stroke="#000" stroke-width="1.5"/>
<path d="M59.02 516.6v2.8" stroke="#000" stroke-width="1.5"/>
<path d="M66.14 516.6v2.8" stroke="#000" stroke-width="1.5"/>
<path d="M73.26 516.6v2.8" stroke="#000" stroke-width="1.5"/>
<path d="M80.38 516.6v2.8" stroke="#000" stroke-width="1.5"/>
<path d="M87.50 516.6v4.3" stroke="#000" stroke-width="1.5"/>
<path d="M94.62 516.6v2.8" stroke="#000" stroke-width="1.5"/>
<path d="M101.74 516.6v2.8" stroke="#000" stroke-width="1.5"/>
<path d="M108.86 516.6v2.8" stroke="#000" stroke-width="1.5"/>
<path d="M115.98 516.6v2.8" stroke="#000" stroke-width="1.5"/>
<path d="M123.10 516.6v4.3" stroke="#000" stroke-width="1.5"/>
<path d="M130.22 516.6v2.8" stroke="#000" stroke-width="1.5"/>
<path d="M137.34 516.6v2.8" stroke="#000" stroke-width="1.5"/>
<path d="M138.0 513.2v7" stroke="#000" stroke-width="1.5"/>
<text x="51.9" y="531.4" font-size="9.5" font-weight="bold" fill="#000" stroke="#000" stroke-width="0.3" text-anchor="middle">0</text>
<text x="87.5" y="531.4" font-size="9.5" font-weight="bold" fill="#000" stroke="#000" stroke-width="0.3" text-anchor="middle">10</text>
<text x="123.1" y="531.4" font-size="9.5" font-weight="bold" fill="#000" stroke="#000" stroke-width="0.3" text-anchor="middle">20</text>
<path d="M147.3 516.6H395.3" stroke="#000" stroke-width="1.8"/>
<path d="M147.3 513.2v7" stroke="#000" stroke-width="1.5"/>
<path d="M147.30 516.6v4.3" stroke="#000" stroke-width="1.5"/>
<text x="147.8" y="531.4" font-size="9.5" font-weight="bold" fill="#000" stroke="#000" stroke-width="0.3" text-anchor="middle">25</text>
<path d="M167.97 516.6v2.8" stroke="#000" stroke-width="1.5"/>
<path d="M188.63 516.6v4.3" stroke="#000" stroke-width="1.5"/>
<text x="189.13" y="531.4" font-size="9.5" font-weight="bold" fill="#000" stroke="#000" stroke-width="0.3" text-anchor="middle">50</text>
<path d="M209.30 516.6v2.8" stroke="#000" stroke-width="1.5"/>
<path d="M229.97 516.6v4.3" stroke="#000" stroke-width="1.5"/>
<text x="230.47" y="531.4" font-size="9.5" font-weight="bold" fill="#000" stroke="#000" stroke-width="0.3" text-anchor="middle">75</text>
<path d="M250.63 516.6v2.8" stroke="#000" stroke-width="1.5"/>
<path d="M271.30 516.6v4.3" stroke="#000" stroke-width="1.5"/>
<text x="271.8" y="531.4" font-size="9.5" font-weight="bold" fill="#000" stroke="#000" stroke-width="0.3" text-anchor="middle">100</text>
<path d="M291.97 516.6v2.8" stroke="#000" stroke-width="1.5"/>
<path d="M312.63 516.6v4.3" stroke="#000" stroke-width="1.5"/>
<text x="313.13" y="531.4" font-size="9.5" font-weight="bold" fill="#000" stroke="#000" stroke-width="0.3" text-anchor="middle">125</text>
<path d="M333.30 516.6v2.8" stroke="#000" stroke-width="1.5"/>
<path d="M353.97 516.6v4.3" stroke="#000" stroke-width="1.5"/>
<text x="354.47" y="531.4" font-size="9.5" font-weight="bold" fill="#000" stroke="#000" stroke-width="0.3" text-anchor="middle">150</text>
<path d="M374.63 516.6v2.8" stroke="#000" stroke-width="1.5"/>
<path d="M395.30 516.6v4.3" stroke="#000" stroke-width="1.5"/>
<text x="395.8" y="531.4" font-size="9.5" font-weight="bold" fill="#000" stroke="#000" stroke-width="0.3" text-anchor="middle">175</text>
<text x="223.3" y="545.2" font-size="11" font-weight="bold" fill="#000" stroke="#000" stroke-width="0.3" text-anchor="middle">Week</text>
<text x="27.8" y="415.9" font-size="11" font-weight="bold" fill="#000" stroke="#000" stroke-width="0.3" text-anchor="middle" transform="rotate(-90 27.8 415.9)">WBCT (min)</text>
<g id="scatterB">
<rect x="49.30" y="327.20" width="5.20" height="5.20" fill="none" stroke="#000" stroke-width="1.3"/>
<rect x="92.40" y="460.40" width="5.20" height="5.20" fill="none" stroke="#000" stroke-width="1.3"/>
<rect x="127.80" y="457.90" width="5.20" height="5.20" fill="none" stroke="#000" stroke-width="1.3"/>
<rect x="155.90" y="460.90" width="5.20" height="5.20" fill="none" stroke="#000" stroke-width="1.3"/>
<rect x="56.20" y="335.90" width="5.20" height="5.20" fill="none" stroke="#000" stroke-width="1.3"/>
<rect x="59.80" y="435.60" width="5.20" height="5.20" fill="none" stroke="#000" stroke-width="1.3"/>
<rect x="63.50" y="443.90" width="5.20" height="5.20" fill="none" stroke="#000" stroke-width="1.3"/>
<rect x="52.40" y="445.10" width="5.20" height="5.20" fill="none" stroke="#000" stroke-width="1.3"/>
<rect x="70.60" y="452.60" width="5.20" height="5.20" fill="none" stroke="#000" stroke-width="1.3"/>
<rect x="77.80" y="453.40" width="5.20" height="5.20" fill="none" stroke="#000" stroke-width="1.3"/>
<rect x="85.50" y="452.60" width="5.20" height="5.20" fill="none" stroke="#000" stroke-width="1.3"/>
<rect x="106.20" y="459.60" width="5.20" height="5.20" fill="none" stroke="#000" stroke-width="1.3"/>
<rect x="113.20" y="451.10" width="5.20" height="5.20" fill="none" stroke="#000" stroke-width="1.3"/>
<rect x="120.10" y="458.80" width="5.20" height="5.20" fill="none" stroke="#000" stroke-width="1.3"/>
<rect x="100.10" y="459.60" width="5.20" height="5.20" fill="none" stroke="#000" stroke-width="1.3"/>
<rect x="134.70" y="445.60" width="5.20" height="5.20" fill="none" stroke="#000" stroke-width="1.3"/>
<rect x="189.30" y="432.00" width="5.20" height="5.20" fill="none" stroke="#000" stroke-width="1.3"/>
<rect x="179.30" y="444.30" width="5.20" height="5.20" fill="none" stroke="#000" stroke-width="1.3"/>
<rect x="166.20" y="441.20" width="5.20" height="5.20" fill="none" stroke="#000" stroke-width="1.3"/>
<rect x="170.10" y="442.80" width="5.20" height="5.20" fill="none" stroke="#000" stroke-width="1.3"/>
<rect x="191.60" y="450.50" width="5.20" height="5.20" fill="none" stroke="#000" stroke-width="1.3"/>
<rect x="147.80" y="455.90" width="5.20" height="5.20" fill="none" stroke="#000" stroke-width="1.3"/>
<rect x="151.60" y="467.40" width="5.20" height="5.20" fill="none" stroke="#000" stroke-width="1.3"/>
<rect x="160.10" y="465.90" width="5.20" height="5.20" fill="none" stroke="#000" stroke-width="1.3"/>
<rect x="176.20" y="463.60" width="5.20" height="5.20" fill="none" stroke="#000" stroke-width="1.3"/>
<rect x="173.20" y="471.20" width="5.20" height="5.20" fill="none" stroke="#000" stroke-width="1.3"/>
<rect x="127.80" y="454.30" width="5.20" height="5.20" fill="none" stroke="#000" stroke-width="1.3"/>
<rect x="153.90" y="458.20" width="5.20" height="5.20" fill="none" stroke="#000" stroke-width="1.3"/>
<rect x="158.60" y="456.60" width="5.20" height="5.20" fill="none" stroke="#000" stroke-width="1.3"/>
<rect x="198.90" y="447.70" width="5.20" height="5.20" fill="none" stroke="#000" stroke-width="1.3"/>
<rect x="202.80" y="439.70" width="5.20" height="5.20" fill="none" stroke="#000" stroke-width="1.3"/>
<rect x="205.90" y="437.90" width="5.20" height="5.20" fill="none" stroke="#000" stroke-width="1.3"/>
<rect x="208.90" y="435.40" width="5.20" height="5.20" fill="none" stroke="#000" stroke-width="1.3"/>
<rect x="212.80" y="449.20" width="5.20" height="5.20" fill="none" stroke="#000" stroke-width="1.3"/>
<rect x="220.90" y="449.70" width="5.20" height="5.20" fill="none" stroke="#000" stroke-width="1.3"/>
<rect x="234.00" y="461.70" width="5.20" height="5.20" fill="none" stroke="#000" stroke-width="1.3"/>
<rect x="245.60" y="461.20" width="5.20" height="5.20" fill="none" stroke="#000" stroke-width="1.3"/>
<rect x="252.50" y="472.00" width="5.20" height="5.20" fill="none" stroke="#000" stroke-width="1.3"/>
<rect x="260.50" y="468.60" width="5.20" height="5.20" fill="none" stroke="#000" stroke-width="1.3"/>
<rect x="196.60" y="461.20" width="5.20" height="5.20" fill="none" stroke="#000" stroke-width="1.3"/>
<rect x="201.20" y="463.60" width="5.20" height="5.20" fill="none" stroke="#000" stroke-width="1.3"/>
<rect x="273.90" y="437.40" width="5.20" height="5.20" fill="none" stroke="#000" stroke-width="1.3"/>
<rect x="324.70" y="437.40" width="5.20" height="5.20" fill="none" stroke="#000" stroke-width="1.3"/>
<rect x="308.20" y="445.10" width="5.20" height="5.20" fill="none" stroke="#000" stroke-width="1.3"/>
<rect x="282.10" y="461.20" width="5.20" height="5.20" fill="none" stroke="#000" stroke-width="1.3"/>
<rect x="267.00" y="465.60" width="5.20" height="5.20" fill="none" stroke="#000" stroke-width="1.3"/>
<rect x="288.60" y="474.30" width="5.20" height="5.20" fill="none" stroke="#000" stroke-width="1.3"/>
<rect x="295.50" y="470.80" width="5.20" height="5.20" fill="none" stroke="#000" stroke-width="1.3"/>
<rect x="301.60" y="471.70" width="5.20" height="5.20" fill="none" stroke="#000" stroke-width="1.3"/>
<rect x="318.60" y="467.10" width="5.20" height="5.20" fill="none" stroke="#000" stroke-width="1.3"/>
<rect x="341.00" y="470.80" width="5.20" height="5.20" fill="none" stroke="#000" stroke-width="1.3"/>
<rect x="359.40" y="463.90" width="5.20" height="5.20" fill="none" stroke="#000" stroke-width="1.3"/>
<rect x="365.90" y="463.90" width="5.20" height="5.20" fill="none" stroke="#000" stroke-width="1.3"/>
<path d="M87.30 448.00L89.70 452.60L84.90 452.60Z" fill="none" stroke="#000" stroke-width="1.25" stroke-linejoin="miter"/>
<path d="M108.80 445.70L111.20 450.30L106.40 450.30Z" fill="none" stroke="#000" stroke-width="1.25" stroke-linejoin="miter"/>
<path d="M119.60 445.70L122.00 450.30L117.20 450.30Z" fill="none" stroke="#000" stroke-width="1.25" stroke-linejoin="miter"/>
<path d="M62.70 451.90L65.10 456.50L60.30 456.50Z" fill="none" stroke="#000" stroke-width="1.25" stroke-linejoin="miter"/>
<path d="M165.50 435.90L167.90 440.50L163.10 440.50Z" fill="none" stroke="#000" stroke-width="1.25" stroke-linejoin="miter"/>
<path d="M173.50 449.70L175.90 454.30L171.10 454.30Z" fill="none" stroke="#000" stroke-width="1.25" stroke-linejoin="miter"/>
<path d="M180.80 480.80L183.20 485.40L178.40 485.40Z" fill="none" stroke="#000" stroke-width="1.25" stroke-linejoin="miter"/>
<path d="M130.40 462.00L132.80 466.60L128.00 466.60Z" fill="none" stroke="#000" stroke-width="1.25" stroke-linejoin="miter"/>
<path d="M220.00 440.90L222.40 445.50L217.60 445.50Z" fill="none" stroke="#000" stroke-width="1.25" stroke-linejoin="miter"/>
<path d="M228.90 438.20L231.30 442.80L226.50 442.80Z" fill="none" stroke="#000" stroke-width="1.25" stroke-linejoin="miter"/>
<path d="M233.10 445.10L235.50 449.70L230.70 449.70Z" fill="none" stroke="#000" stroke-width="1.25" stroke-linejoin="miter"/>
<path d="M244.60 425.90L247.00 430.50L242.20 430.50Z" fill="none" stroke="#000" stroke-width="1.25" stroke-linejoin="miter"/>
<path d="M258.20 419.70L260.60 424.30L255.80 424.30Z" fill="none" stroke="#000" stroke-width="1.25" stroke-linejoin="miter"/>
<path d="M264.60 425.10L267.00 429.70L262.20 429.70Z" fill="none" stroke="#000" stroke-width="1.25" stroke-linejoin="miter"/>
<path d="M203.80 458.90L206.20 463.50L201.40 463.50Z" fill="none" stroke="#000" stroke-width="1.25" stroke-linejoin="miter"/>
<path d="M196.90 466.60L199.30 471.20L194.50 471.20Z" fill="none" stroke="#000" stroke-width="1.25" stroke-linejoin="miter"/>
<path d="M101.90 471.90L104.30 476.50L99.50 476.50Z" fill="#000" stroke="#000" stroke-width="1.25" stroke-linejoin="miter"/>
<path d="M51.90 334.20L54.30 338.80L49.50 338.80Z" fill="#000" stroke="#000" stroke-width="1.25" stroke-linejoin="miter"/>
<path d="M99.50 460.10L101.90 455.50L97.10 455.50Z" fill="none" stroke="#000" stroke-width="1.25" stroke-linejoin="miter"/>
<path d="M51.90 336.00L54.30 331.40L49.50 331.40Z" fill="none" stroke="#000" stroke-width="1.25" stroke-linejoin="miter"/>
<path d="M160.00 463.60L162.40 459.00L157.60 459.00Z" fill="none" stroke="#000" stroke-width="1.25" stroke-linejoin="miter"/>
<path d="M62.40 335.20L64.80 330.60L60.00 330.60Z" fill="none" stroke="#000" stroke-width="1.25" stroke-linejoin="miter"/>
<path d="M66.10 386.90L68.50 382.30L63.70 382.30Z" fill="none" stroke="#000" stroke-width="1.25" stroke-linejoin="miter"/>
<path d="M58.80 403.40L61.20 398.80L56.40 398.80Z" fill="none" stroke="#000" stroke-width="1.25" stroke-linejoin="miter"/>
<path d="M69.90 407.20L72.30 402.60L67.50 402.60Z" fill="none" stroke="#000" stroke-width="1.25" stroke-linejoin="miter"/>
<path d="M73.20 430.60L75.60 426.00L70.80 426.00Z" fill="none" stroke="#000" stroke-width="1.25" stroke-linejoin="miter"/>
<path d="M77.00 432.10L79.40 427.50L74.60 427.50Z" fill="none" stroke="#000" stroke-width="1.25" stroke-linejoin="miter"/>
<path d="M55.00 444.90L57.40 440.30L52.60 440.30Z" fill="none" stroke="#000" stroke-width="1.25" stroke-linejoin="miter"/>
<path d="M95.00 457.10L97.40 452.50L92.60 452.50Z" fill="none" stroke="#000" stroke-width="1.25" stroke-linejoin="miter"/>
<path d="M98.80 461.60L101.20 457.00L96.40 457.00Z" fill="none" stroke="#000" stroke-width="1.25" stroke-linejoin="miter"/>
<path d="M108.80 474.00L111.20 469.40L106.40 469.40Z" fill="none" stroke="#000" stroke-width="1.25" stroke-linejoin="miter"/>
<path d="M123.50 475.60L125.90 471.00L121.10 471.00Z" fill="none" stroke="#000" stroke-width="1.25" stroke-linejoin="miter"/>
<path d="M81.20 462.40L83.60 457.80L78.80 457.80Z" fill="none" stroke="#000" stroke-width="1.25" stroke-linejoin="miter"/>
<path d="M87.30 467.10L89.70 462.50L84.90 462.50Z" fill="none" stroke="#000" stroke-width="1.25" stroke-linejoin="miter"/>
<path d="M115.80 461.60L118.20 457.00L113.40 457.00Z" fill="none" stroke="#000" stroke-width="1.25" stroke-linejoin="miter"/>
<path d="M168.10 481.10L170.50 476.50L165.70 476.50Z" fill="none" stroke="#000" stroke-width="1.25" stroke-linejoin="miter"/>
<path d="M178.10 450.30L180.50 445.70L175.70 445.70Z" fill="none" stroke="#000" stroke-width="1.25" stroke-linejoin="miter"/>
<path d="M176.50 463.40L178.90 458.80L174.10 458.80Z" fill="none" stroke="#000" stroke-width="1.25" stroke-linejoin="miter"/>
<path d="M231.50 441.10L233.90 436.50L229.10 436.50Z" fill="none" stroke="#000" stroke-width="1.25" stroke-linejoin="miter"/>
<path d="M240.00 444.10L242.40 439.50L237.60 439.50Z" fill="none" stroke="#000" stroke-width="1.25" stroke-linejoin="miter"/>
<path d="M253.10 450.30L255.50 445.70L250.70 445.70Z" fill="none" stroke="#000" stroke-width="1.25" stroke-linejoin="miter"/>
<path d="M246.20 469.50L248.60 464.90L243.80 464.90Z" fill="none" stroke="#000" stroke-width="1.25" stroke-linejoin="miter"/>
<path d="M261.20 481.80L263.60 477.20L258.80 477.20Z" fill="none" stroke="#000" stroke-width="1.25" stroke-linejoin="miter"/>
<path d="M267.70 466.40L270.10 461.80L265.30 461.80Z" fill="none" stroke="#000" stroke-width="1.25" stroke-linejoin="miter"/>
<path d="M198.50 458.00L200.90 453.40L196.10 453.40Z" fill="none" stroke="#000" stroke-width="1.25" stroke-linejoin="miter"/>
<path d="M210.00 464.90L212.40 460.30L207.60 460.30Z" fill="none" stroke="#000" stroke-width="1.25" stroke-linejoin="miter"/>
<path d="M220.00 473.40L222.40 468.80L217.60 468.80Z" fill="none" stroke="#000" stroke-width="1.25" stroke-linejoin="miter"/>
<path d="M324.20 452.30L326.60 447.70L321.80 447.70Z" fill="none" stroke="#000" stroke-width="1.25" stroke-linejoin="miter"/>
<path d="M299.30 460.60L301.70 456.00L296.90 456.00Z" fill="none" stroke="#000" stroke-width="1.25" stroke-linejoin="miter"/>
<path d="M335.80 460.60L338.20 456.00L333.40 456.00Z" fill="none" stroke="#000" stroke-width="1.25" stroke-linejoin="miter"/>
<path d="M310.80 470.30L313.20 465.70L308.40 465.70Z" fill="none" stroke="#000" stroke-width="1.25" stroke-linejoin="miter"/>
<path d="M319.20 467.20L321.60 462.60L316.80 462.60Z" fill="none" stroke="#000" stroke-width="1.25" stroke-linejoin="miter"/>
<path d="M284.70 475.40L287.10 470.80L282.30 470.80Z" fill="none" stroke="#000" stroke-width="1.25" stroke-linejoin="miter"/>
<path d="M274.50 479.10L276.90 474.50L272.10 474.50Z" fill="none" stroke="#000" stroke-width="1.25" stroke-linejoin="miter"/>
<path d="M59.00 455.75L61.75 458.50L59.00 461.25L56.25 458.50Z" fill="none" stroke="#000" stroke-width="1.3"/>
<path d="M115.80 461.75L118.55 464.50L115.80 467.25L113.05 464.50Z" fill="none" stroke="#000" stroke-width="1.3"/>
<path d="M120.40 464.05L123.15 466.80L120.40 469.55L117.65 466.80Z" fill="none" stroke="#000" stroke-width="1.3"/>
<path d="M116.00 458.75L118.75 461.50L116.00 464.25L113.25 461.50Z" fill="none" stroke="#000" stroke-width="1.3"/>
<path d="M156.00 456.75L158.75 459.50L156.00 462.25L153.25 459.50Z" fill="none" stroke="#000" stroke-width="1.3"/>
<path d="M163.00 455.25L165.75 458.00L163.00 460.75L160.25 458.00Z" fill="none" stroke="#000" stroke-width="1.3"/>
<path d="M171.50 445.75L174.25 448.50L171.50 451.25L168.75 448.50Z" fill="none" stroke="#000" stroke-width="1.3"/>
<path d="M174.50 466.75L177.25 469.50L174.50 472.25L171.75 469.50Z" fill="none" stroke="#000" stroke-width="1.3"/>
<path d="M51.90 352.55L54.65 355.30L51.90 358.05L49.15 355.30Z" fill="none" stroke="#000" stroke-width="1.3"/>
<path d="M55.80 468.65L58.55 471.40L55.80 474.15L53.05 471.40Z" fill="none" stroke="#000" stroke-width="1.3"/>
<path d="M58.80 472.95L61.55 475.70L58.80 478.45L56.05 475.70Z" fill="none" stroke="#000" stroke-width="1.3"/>
<path d="M62.40 477.05L65.15 479.80L62.40 482.55L59.65 479.80Z" fill="none" stroke="#000" stroke-width="1.3"/>
<path d="M69.60 483.25L72.35 486.00L69.60 488.75L66.85 486.00Z" fill="none" stroke="#000" stroke-width="1.3"/>
<path d="M66.10 469.85L68.85 472.60L66.10 475.35L63.35 472.60Z" fill="none" stroke="#000" stroke-width="1.3"/>
<path d="M72.70 460.95L75.45 463.70L72.70 466.45L69.95 463.70Z" fill="none" stroke="#000" stroke-width="1.3"/>
<path d="M76.50 464.05L79.25 466.80L76.50 469.55L73.75 466.80Z" fill="none" stroke="#000" stroke-width="1.3"/>
<path d="M80.40 471.75L83.15 474.50L80.40 477.25L77.65 474.50Z" fill="none" stroke="#000" stroke-width="1.3"/>
<path d="M83.50 466.25L86.25 469.00L83.50 471.75L80.75 469.00Z" fill="none" stroke="#000" stroke-width="1.3"/>
<path d="M86.80 474.75L89.55 477.50L86.80 480.25L84.05 477.50Z" fill="none" stroke="#000" stroke-width="1.3"/>
<path d="M90.80 474.45L93.55 477.20L90.80 479.95L88.05 477.20Z" fill="none" stroke="#000" stroke-width="1.3"/>
<path d="M94.50 472.45L97.25 475.20L94.50 477.95L91.75 475.20Z" fill="none" stroke="#000" stroke-width="1.3"/>
<path d="M90.40 464.75L93.15 467.50L90.40 470.25L87.65 467.50Z" fill="none" stroke="#000" stroke-width="1.3"/>
<path d="M147.30 480.65L150.05 483.40L147.30 486.15L144.55 483.40Z" fill="none" stroke="#000" stroke-width="1.3"/>
<path d="M152.70 446.45L155.45 449.20L152.70 451.95L149.95 449.20Z" fill="none" stroke="#000" stroke-width="1.3"/>
<path d="M158.10 447.25L160.85 450.00L158.10 452.75L155.35 450.00Z" fill="none" stroke="#000" stroke-width="1.3"/>
<path d="M180.40 454.15L183.15 456.90L180.40 459.65L177.65 456.90Z" fill="none" stroke="#000" stroke-width="1.3"/>
<path d="M190.40 465.75L193.15 468.50L190.40 471.25L187.65 468.50Z" fill="none" stroke="#000" stroke-width="1.3"/>
<path d="M192.70 470.35L195.45 473.10L192.70 475.85L189.95 473.10Z" fill="none" stroke="#000" stroke-width="1.3"/>
<path d="M199.20 461.85L201.95 464.60L199.20 467.35L196.45 464.60Z" fill="none" stroke="#000" stroke-width="1.3"/>
<path d="M213.10 466.45L215.85 469.20L213.10 471.95L210.35 469.20Z" fill="none" stroke="#000" stroke-width="1.3"/>
<path d="M218.50 468.05L221.25 470.80L218.50 473.55L215.75 470.80Z" fill="none" stroke="#000" stroke-width="1.3"/>
<path d="M226.90 470.35L229.65 473.10L226.90 475.85L224.15 473.10Z" fill="none" stroke="#000" stroke-width="1.3"/>
<path d="M94.80 458.80L99.60 463.60M94.80 463.60L99.60 458.80" fill="none" stroke="#000" stroke-width="1.4"/>
<path d="M49.50 327.40L54.30 332.20M49.50 332.20L54.30 327.40" fill="none" stroke="#000" stroke-width="1.4"/>
<path d="M57.60 455.60L62.40 460.40M57.60 460.40L62.40 455.60" fill="none" stroke="#000" stroke-width="1.4"/>
<path d="M118.00 448.20L122.80 453.00M118.00 453.00L122.80 448.20" fill="none" stroke="#000" stroke-width="1.4"/>
<path d="M119.10 463.60L123.90 468.40M119.10 468.40L123.90 463.60" fill="none" stroke="#000" stroke-width="1.4"/>
<path d="M156.10 459.60L160.90 464.40M156.10 464.40L160.90 459.60" fill="none" stroke="#000" stroke-width="1.4"/>
<path d="M175.60 468.10L180.40 472.90M175.60 472.90L180.40 468.10" fill="none" stroke="#000" stroke-width="1.4"/>
<path d="M54.10 465.90L58.90 470.70M54.10 470.70L58.90 465.90" fill="none" stroke="#000" stroke-width="1.4"/>
<path d="M58.00 466.60L62.80 471.40M58.00 471.40L62.80 466.60" fill="none" stroke="#000" stroke-width="1.4"/>
<path d="M63.40 464.40L68.20 469.20M63.40 469.20L68.20 464.40" fill="none" stroke="#000" stroke-width="1.4"/>
<path d="M61.10 455.10L65.90 459.90M61.10 459.90L65.90 455.10" fill="none" stroke="#000" stroke-width="1.4"/>
<path d="M121.10 448.40L125.90 453.20M121.10 453.20L125.90 448.40" fill="none" stroke="#000" stroke-width="1.4"/>
<path d="M146.40 469.90L151.20 474.70M146.40 474.70L151.20 469.90" fill="none" stroke="#000" stroke-width="1.4"/>
<path d="M168.80 467.60L173.60 472.40M168.80 472.40L173.60 467.60" fill="none" stroke="#000" stroke-width="1.4"/>
<path d="M165.70 449.90L170.50 454.70M165.70 454.70L170.50 449.90" fill="none" stroke="#000" stroke-width="1.4"/>
<path d="M190.70 469.90L195.50 474.70M190.70 474.70L195.50 469.90" fill="none" stroke="#000" stroke-width="1.4"/>
<path d="M49.20 347.20L54.60 347.20M51.90 344.50L51.90 349.90" fill="none" stroke="#000" stroke-width="1.35"/>
<path d="M49.20 339.30L54.60 339.30M51.90 336.60L51.90 342.00" fill="none" stroke="#000" stroke-width="1.35"/>
<path d="M70.50 447.50L75.90 447.50M73.20 444.80L73.20 450.20" fill="none" stroke="#000" stroke-width="1.35"/>
<path d="M84.60 446.00L90.00 446.00M87.30 443.30L87.30 448.70" fill="none" stroke="#000" stroke-width="1.35"/>
<path d="M183.10 480.80L188.50 480.80M185.80 478.10L185.80 483.50" fill="none" stroke="#000" stroke-width="1.35"/>
<path d="M170.00 440.80L175.40 440.80M172.70 438.10L172.70 443.50" fill="none" stroke="#000" stroke-width="1.35"/>
<path d="M148.50 464.60L153.90 464.60M151.20 461.90L151.20 467.30" fill="none" stroke="#000" stroke-width="1.35"/>
<path d="M205.00 467.70L210.40 467.70M207.70 465.00L207.70 470.40" fill="none" stroke="#000" stroke-width="1.35"/>
</g>
<rect x="408.8" y="387.5" width="68.8" height="93" fill="#fff" stroke="#333" stroke-width="1"/>
<rect x="416.30" y="394.00" width="5.00" height="5.00" fill="none" stroke="#000" stroke-width="1.5"/>
<text x="431.2" y="399.4" font-size="9.4" font-weight="bold" fill="#000" stroke="#000" stroke-width="0.3" textLength="21.6" lengthAdjust="spacing">Elisa</text>
<path d="M418.80 408.90L421.30 413.60L416.30 413.60Z" fill="none" stroke="#000" stroke-width="1.45" stroke-linejoin="miter"/>
<text x="431.2" y="414.3" font-size="9.4" font-weight="bold" fill="#000" stroke="#000" stroke-width="0.3" textLength="30.2" lengthAdjust="spacing">Vector</text>
<path d="M418.80 429.20L421.30 424.50L416.30 424.50Z" fill="none" stroke="#000" stroke-width="1.45" stroke-linejoin="miter"/>
<text x="431.2" y="429.4" font-size="9.4" font-weight="bold" fill="#000" stroke="#000" stroke-width="0.3" textLength="29.1" lengthAdjust="spacing">Junior</text>
<path d="M418.80 439.10L421.50 441.80L418.80 444.50L416.10 441.80Z" fill="none" stroke="#000" stroke-width="1.45"/>
<text x="431.2" y="444.5" font-size="9.4" font-weight="bold" fill="#000" stroke="#000" stroke-width="0.3" textLength="27.7" lengthAdjust="spacing">Alexis</text>
<path d="M415.80 454.00L421.80 460.00M415.80 460.00L421.80 454.00" fill="none" stroke="#000" stroke-width="1.6"/>
<text x="431.2" y="459.5" font-size="9.4" font-weight="bold" fill="#000" stroke="#000" stroke-width="0.3" textLength="39.8" lengthAdjust="spacing">Maurizio</text>
<path d="M415.40 471.80L422.20 471.80M418.80 468.40L418.80 475.20" fill="none" stroke="#000" stroke-width="1.5"/>
<text x="431.2" y="474.6" font-size="9.4" font-weight="bold" fill="#000" stroke="#000" stroke-width="0.3" textLength="41.5" lengthAdjust="spacing">Floopers</text>
</svg></body></html>
